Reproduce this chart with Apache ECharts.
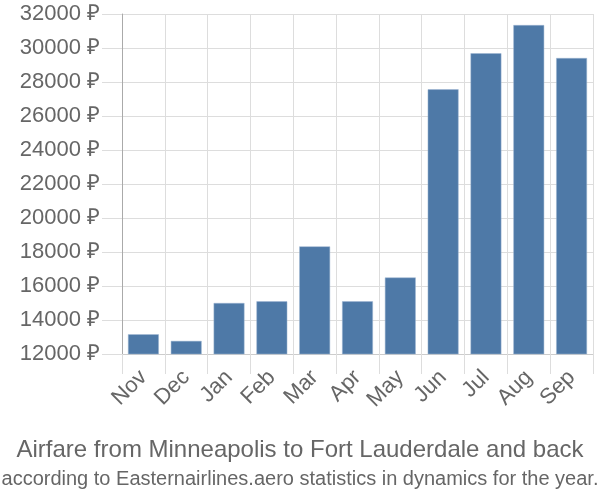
<!DOCTYPE html>
<html><head><meta charset="utf-8">
<script src="https://cdn.jsdelivr.net/npm/echarts@6/dist/echarts.min.js"></script>
<style>html,body{margin:0;padding:0;background:#fff}#c{width:600px;height:500px}</style>
</head><body><div id="c"></div>
<script>
const categories = ['Nov','Dec','Jan','Feb','Mar','Apr','May','Jun','Jul','Aug','Sep'];
const prices = [13160, 12770, 15000, 15100, 18330, 15100, 16500, 27570, 29690, 31350, 29410];
const yTicks = {min: 12000, max: 32000, step: 2000};
const titleText = 'Airfare from Minneapolis to Fort Lauderdale and back';
const subtitleText = 'according to Easternairlines.aero statistics in dynamics for the year.';

const chart = echarts.init(document.getElementById('c'), null, {renderer: 'canvas'});
const font = '"Liberation Sans", Arial, sans-serif';
chart.setOption({
  animation: false,
  title: [
    {text: titleText, left: 'center', top: 433, textStyle: {fontFamily: font, fontSize: 24, fontWeight: 'normal', color: '#666'}},
    {text: subtitleText, left: 'center', top: 464, textStyle: {fontFamily: font, fontSize: 20, fontWeight: 'normal', color: '#666'}}
  ],
  grid: {left: 122, right: 7, top: 14, bottom: 146, containLabel: false},
  xAxis: {
    type: 'category', data: categories,
    axisLine: {lineStyle: {color: '#ccc'}},
    axisTick: {show: true, length: 20, lineStyle: {color: '#ddd'}},
    splitLine: {show: true, lineStyle: {color: '#ddd', width: 1}},
    axisLabel: {rotate: 45, fontFamily: font, fontSize: 22, color: '#666', margin: 20, interval: 0}
  },
  yAxis: {
    type: 'value', min: yTicks.min, max: yTicks.max, interval: yTicks.step,
    axisLine: {show: true, lineStyle: {color: '#aaa'}},
    axisTick: {show: true, length: 20, lineStyle: {color: '#ddd'}},
    splitLine: {show: true, lineStyle: {color: '#ddd', width: 1}},
    axisLabel: {fontFamily: font, fontSize: 22, color: '#666', margin: 22, formatter: v => v + ' ₽'}
  },
  series: [{
    type: 'bar', data: prices, barCategoryGap: '28%',
    itemStyle: {color: '#4e79a7', borderColor: '#9fb6d3', borderWidth: 0.5}
  }]
});
</script></body></html>
